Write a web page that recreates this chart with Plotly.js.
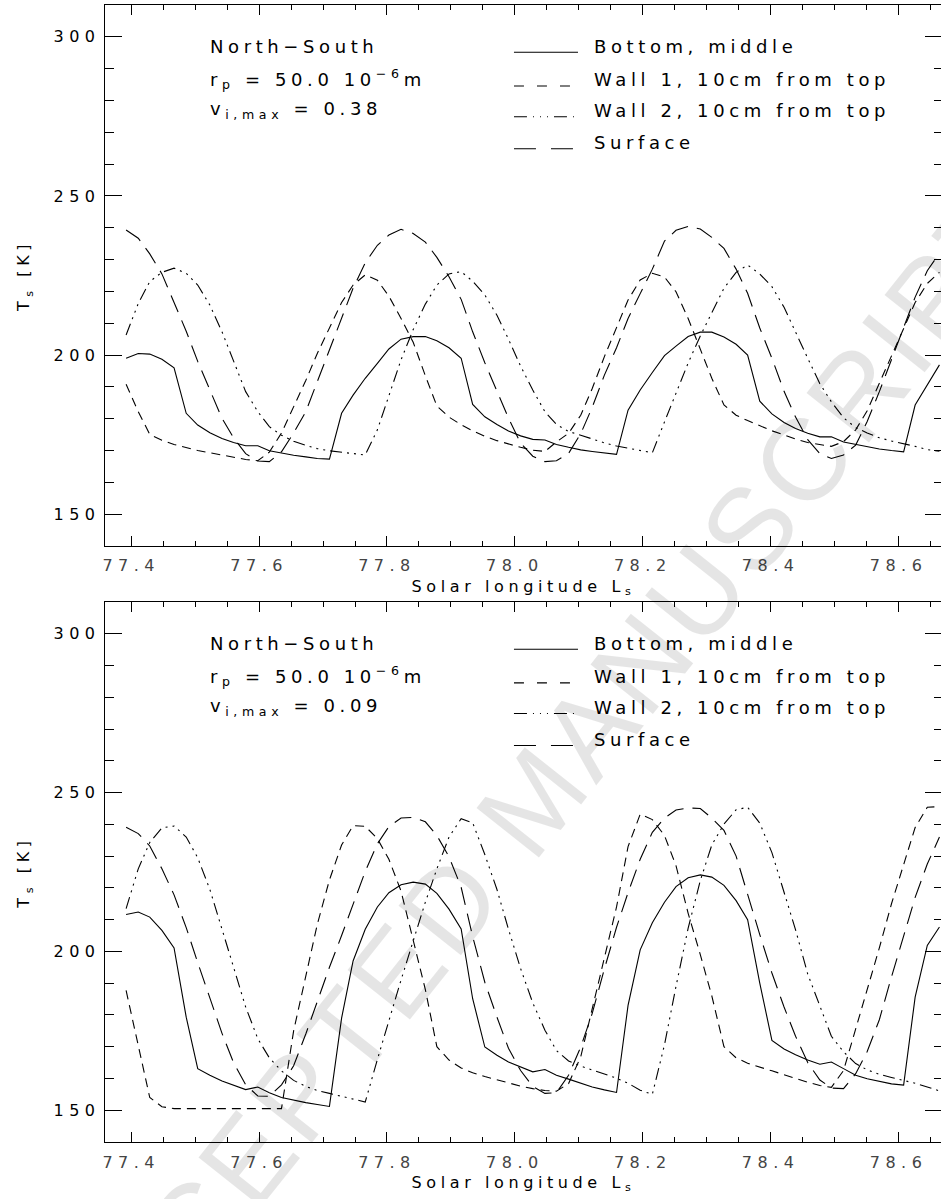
<!DOCTYPE html>
<html>
<head>
<meta charset="utf-8">
<script src="https://cdn.plot.ly/plotly-3.0.1.min.js"></script>
<style>
html, body { margin: 0; padding: 0; background: #fff; overflow: hidden; }
#chart { width: 942px; height: 1199px; }
text { letter-spacing: 4.6px; }
.main-svg .xtick text, .main-svg .x2tick text, .main-svg .ytick text, .main-svg .y2tick text { letter-spacing: 5.5px; }
</style>
</head>
<body>
<div id="chart"></div>
<script>
// Solar longitude sample points (shared by all curves)
const solarLongitude = [
  77.392, 77.411, 77.429, 77.448, 77.467, 77.486, 77.504, 77.523, 77.542, 77.560,
  77.579, 77.598, 77.616, 77.635, 77.654, 77.673, 77.691, 77.710, 77.729, 77.747,
  77.766, 77.785, 77.803, 77.822, 77.841, 77.860, 77.878, 77.897, 77.916, 77.934,
  77.953, 77.972, 77.990, 78.009, 78.028, 78.047, 78.065, 78.084, 78.103, 78.121,
  78.140, 78.159, 78.177, 78.196, 78.215, 78.234, 78.252, 78.271, 78.290, 78.308,
  78.327, 78.346, 78.364, 78.383, 78.402, 78.421, 78.439, 78.458, 78.477, 78.495,
  78.514, 78.533, 78.551, 78.570, 78.589, 78.608, 78.626, 78.645, 78.664
];

// Series names (legend text)
const seriesNames = ['Bottom, middle', 'Wall 1, 10cm from top', 'Wall 2, 10cm from top', 'Surface'];

// ---------- Panel 1 (v_i,max = 0.38) ----------
const p1Bottom = [
  199.0,200.5,200.3,198.7,196.0,181.7,178.0,175.6,173.8,172.5,
  171.5,171.5,169.9,169.1,168.5,168.0,167.5,167.3,181.7,187.4,
  192.7,197.4,201.9,205.0,205.8,205.8,204.5,202.3,199.0,184.5,
  180.6,178.2,176.1,174.6,173.5,173.3,171.9,171.0,170.2,169.7,
  169.2,168.8,182.7,189.0,194.5,199.8,202.8,205.8,207.2,207.2,
  205.7,203.4,200.0,185.5,181.5,178.8,176.9,175.4,174.3,174.3,
  172.7,171.9,171.1,170.5,170.0,169.6,184.3,190.6,196.9
];
const p1Wall1 = [
  190.8,182.2,175.1,173.2,171.9,170.9,170.0,169.3,168.6,167.9,
  167.2,166.8,169.5,175.5,183.5,192.0,200.5,208.5,216.5,222.0,
  225.2,223.5,218.5,211.5,204.0,193.5,184.0,180.5,178.1,176.2,
  174.5,173.1,172.0,171.0,170.1,169.7,172.7,175.4,181.1,189.5,
  199.5,208.9,217.3,223.6,225.7,224.5,219.9,211.5,202.1,192.7,
  184.3,181.1,179.4,177.8,176.2,174.9,173.6,172.5,171.8,171.3,
  172.8,176.5,182.5,191.0,200.0,208.5,216.5,222.5,226.0
];
const p1Wall2 = [
  206.3,216.2,223.1,226.0,227.3,225.7,222.0,215.7,207.3,197.9,
  188.5,182.2,177.5,174.8,172.9,171.6,170.6,169.9,169.4,169.0,
  168.6,176.5,187.0,198.5,208.0,216.0,222.0,225.5,226.2,223.2,
  218.9,212.5,205.0,196.5,189.0,182.2,178.2,176.0,174.8,173.6,
  172.4,171.4,170.7,170.0,169.3,179.0,188.0,197.5,206.0,213.5,
  221.0,226.0,228.3,225.5,221.5,215.0,207.0,199.0,191.0,185.3,
  180.3,177.2,175.5,174.0,173.0,172.2,171.3,170.3,169.8
];
const p1Surface = [
  239.3,236.7,231.8,225.5,216.5,207.5,198.0,189.0,180.1,174.0,
  169.0,166.7,166.5,169.6,175.5,182.2,191.5,201.5,211.5,221.0,
  229.0,234.5,237.7,239.5,238.2,235.5,230.7,224.6,217.5,207.3,
  197.6,188.8,180.2,172.3,168.2,166.5,166.8,169.1,175.3,183.6,
  193.7,202.3,211.5,219.3,227.0,235.8,239.2,240.4,239.6,237.0,
  233.5,227.0,219.4,208.5,199.0,188.6,180.5,173.4,169.0,167.5,
  168.6,171.7,179.1,188.5,198.5,208.3,218.2,226.5,232.0
];

// ---------- Panel 2 (v_i,max = 0.09) ----------
const p2Bottom = [
  211.6,212.4,210.8,206.6,201.1,179.3,163.1,161.0,159.2,157.9,
  156.5,157.3,155.5,154.0,153.1,152.4,151.8,151.2,179.0,197.0,
  207.0,214.0,218.5,221.0,221.8,221.2,218.3,213.3,207.1,185.1,
  169.9,167.3,165.2,163.7,162.1,162.8,161.0,159.8,158.6,157.3,
  156.4,155.6,183.0,200.5,209.0,215.5,220.4,223.2,224.1,223.4,
  220.8,216.0,210.0,190.0,172.0,169.3,167.5,165.8,164.5,165.2,
  163.1,161.0,159.9,159.0,158.3,157.9,185.6,201.9,207.7
];
const p2Wall1 = [
  187.7,170.4,154.0,151.1,150.5,150.5,150.5,150.5,150.5,150.5,
  150.5,150.5,150.5,150.5,175.0,192.5,208.5,222.5,233.5,239.6,
  239.4,235.5,229.0,219.0,203.5,188.0,170.0,165.8,163.3,161.8,
  160.6,159.5,158.5,157.6,156.8,156.2,156.0,158.4,166.8,182.0,
  197.5,214.0,233.0,243.2,241.5,236.5,227.0,212.0,199.0,186.0,
  170.0,166.5,164.8,163.5,162.4,161.2,160.0,158.8,157.8,157.2,
  162.5,175.5,187.8,201.1,215.0,227.5,239.0,245.4,245.6
];
const p2Wall2 = [
  213.5,226.0,234.3,238.9,239.5,236.0,229.5,219.5,207.0,195.1,
  182.5,172.5,166.5,162.4,159.4,157.5,156.2,155.3,154.4,153.5,
  152.6,166.0,178.5,191.0,203.3,215.5,226.0,236.0,241.8,240.5,
  230.5,219.5,207.0,194.6,183.8,175.2,168.8,165.5,163.9,162.6,
  161.4,160.1,158.5,156.3,155.0,170.6,189.0,207.3,222.3,233.5,
  240.1,244.6,245.4,240.4,231.1,218.8,206.8,192.9,183.0,173.3,
  168.4,164.7,162.7,161.3,160.3,159.4,158.5,157.3,156.1
];
const p2Surface = [
  239.1,237.1,233.2,226.0,217.8,207.5,196.5,185.5,174.2,165.0,
  158.0,154.5,154.4,158.0,164.0,174.0,184.5,195.0,205.0,214.5,
  225.2,233.9,239.3,242.0,242.2,240.8,236.5,229.8,220.2,204.7,
  190.3,179.3,169.5,162.5,157.5,155.3,155.5,161.0,169.9,180.5,
  194.5,207.6,218.5,229.0,237.5,242.0,244.5,245.2,245.0,242.0,
  238.1,230.0,217.7,205.3,193.2,182.5,173.3,165.0,159.5,157.0,
  156.8,161.5,168.5,178.5,192.0,205.0,217.0,227.5,236.0
];

const panelSeries = [
  [p1Bottom, p1Wall1, p1Wall2, p1Surface],
  [p2Bottom, p2Wall1, p2Wall2, p2Surface]
];
const panelVmax = ['0.38', '0.09'];

// ---------- styles ----------
const FONT = 'DejaVu Sans';
const plotDash = ['solid', '9px,6px', '12px,5px,2px,5px,2px,5px,2px,5px', '18px,9px'];
const legendDash = ['solid', '10px,13px', '13px,6px,1px,6px,1px,6px,1px,6px', '22px,15px'];

const traces = [];
panelSeries.forEach((series, p) => {
  series.forEach((vals, s) => {
    traces.push({
      x: solarLongitude, y: vals,
      xaxis: p === 0 ? 'x' : 'x2', yaxis: p === 0 ? 'y' : 'y2',
      type: 'scatter', mode: 'lines', name: seriesNames[s], showlegend: false,
      line: { color: '#000', width: 1.1, dash: plotDash[s] },
      hoverinfo: 'skip'
    });
  });
});

function xAxisDef(anchor) {
  return {
    anchor: anchor, domain: [0, 1], range: [77.359, 78.668],
    showline: true, linecolor: '#000', linewidth: 1.3, mirror: 'ticks',
    ticks: 'inside', ticklen: 10, tickwidth: 1, tickcolor: '#000',
    tick0: 77.4, dtick: 0.2, tickformat: '.1f', ticklabelstandoff: 5,
    minor: { ticks: 'inside', ticklen: 5, dtick: 0.05, tickwidth: 1, tickcolor: '#000', showgrid: false },
    showgrid: false, zeroline: false, automargin: false, fixedrange: true,
    tickfont: { family: FONT, size: 16, color: '#444' },
    title: { text: 'Solar longitude L<sub>s</sub>', font: { family: FONT, size: 16, color: '#000' }, standoff: 6 }
  };
}
function yAxisDef(anchor, domain) {
  return {
    anchor: anchor, domain: domain, range: [140, 310],
    showline: true, linecolor: '#000', linewidth: 1.3, mirror: 'ticks',
    ticks: 'inside', ticklen: 17, tickwidth: 1, tickcolor: '#000',
    tick0: 0, dtick: 50,
    minor: { ticks: 'inside', ticklen: 8.5, dtick: 10, tickwidth: 1, tickcolor: '#000', showgrid: false },
    showgrid: false, zeroline: false, automargin: false, fixedrange: true,
    tickfont: { family: FONT, size: 16, color: '#000' },
    title: { text: 'T<sub>s</sub> [K]', font: { family: FONT, size: 16, color: '#000' }, standoff: 22 }
  };
}

const annotations = [];
const shapes = [];
const textYs = [0.9224, 0.8632, 0.8052];
const legendTextYs = [0.9224, 0.8628, 0.8046, 0.7455];
const legendLineYs = [0.9126, 0.8503, 0.7935, 0.7342];

[0, 1].forEach(p => {
  const xr = p === 0 ? 'x domain' : 'x2 domain';
  const yr = p === 0 ? 'y domain' : 'y2 domain';
  const leftTexts = [
    'North\u2212South',
    'r<sub>p</sub> = 50.0 10<sup>\u22126</sup>m',
    'v<sub>i,max</sub> = ' + panelVmax[p]
  ];
  leftTexts.forEach((t, k) => {
    annotations.push({ xref: xr, yref: yr, x: 0.1231, y: textYs[k], xanchor: 'left', yanchor: 'middle',
      text: t, showarrow: false, font: { family: FONT, size: 18, color: '#000' } });
  });
  seriesNames.forEach((nm, s) => {
    annotations.push({ xref: xr, yref: yr, x: 0.5818, y: legendTextYs[s], xanchor: 'left', yanchor: 'middle',
      text: nm, showarrow: false, font: { family: FONT, size: 18, color: '#000' } });
    shapes.push({ type: 'line', xref: xr, yref: yr, x0: 0.4886, x1: 0.5651, y0: legendLineYs[s], y1: legendLineYs[s],
      line: { color: '#000', width: 1.1, dash: legendDash[s] } });
  });
});

// Journal watermark
annotations.push({ xref: 'paper', yref: 'paper', x: 0.5137, y: 0.3026, xanchor: 'center', yanchor: 'middle',
  text: 'ACCEPTED MANUSCRIPT', textangle: -51.5, showarrow: false,
  font: { family: 'Liberation Sans', size: 116, color: 'rgba(0,0,0,0.10)' } });

const layout = {
  width: 942, height: 1199,
  margin: { l: 105, r: 0, t: 5, b: 57, pad: 0 },
  paper_bgcolor: '#fff', plot_bgcolor: '#fff',
  showlegend: false,
  xaxis: xAxisDef('y'),
  yaxis: yAxisDef('x', [0.5242, 1]),
  xaxis2: xAxisDef('y2'),
  yaxis2: yAxisDef('x2', [0, 0.4749]),
  annotations: annotations,
  shapes: shapes
};

Plotly.newPlot('chart', traces, layout, { staticPlot: true, displayModeBar: false });
</script>
</body>
</html>
